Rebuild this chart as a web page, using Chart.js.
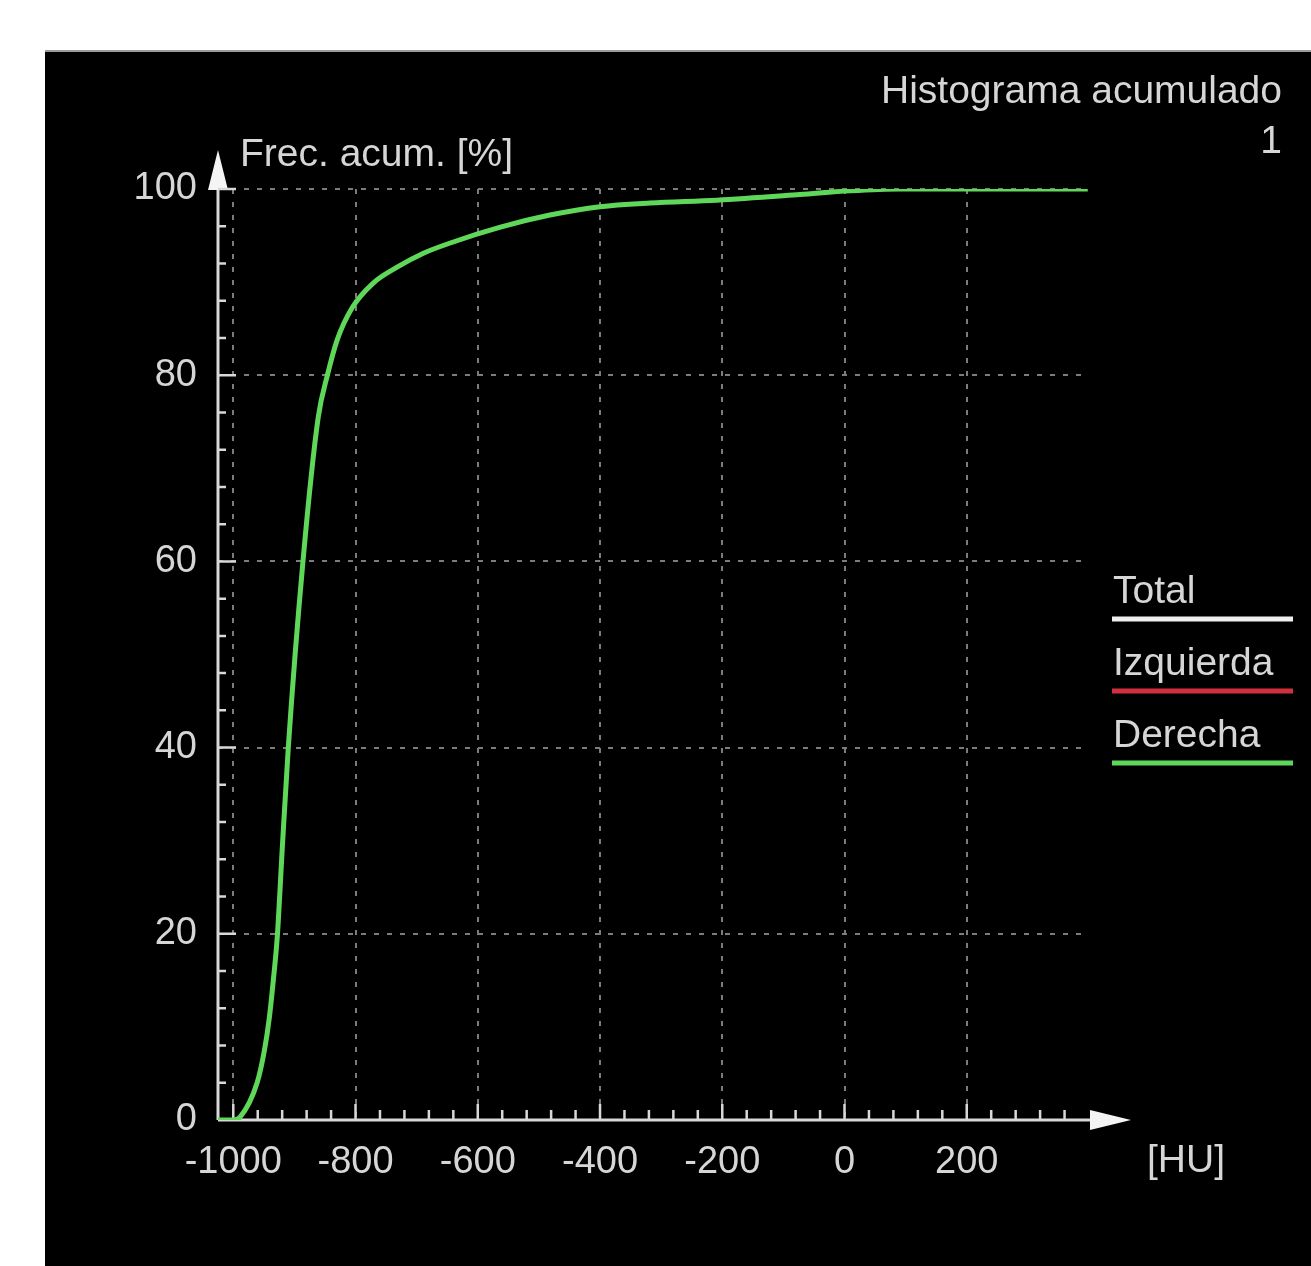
<!DOCTYPE html>
<html>
<head>
<meta charset="utf-8">
<script src="https://cdn.jsdelivr.net/npm/chart.js@4.4.1/dist/chart.umd.min.js"></script>
<style>
  html, body { margin: 0; padding: 0; background: #fff; }
  #wrap { width: 1311px; height: 1266px; }
</style>
</head>
<body>
<div id="wrap"><canvas id="myChart" width="1311" height="1266"></canvas></div>
<script>
// HU values and cumulative frequency
const huValues   = [-1025, -1000, -989, -961, -949, -941, -935, -928, -920, -910, -886, -861, -846, -830, -805, -771, -732, -689, -645, -563, -482, -400, -318, -209, -73, 9, 91, 200, 398];
const derechaPct = [0, 0, 0.3, 4, 7.5, 11, 14.7, 19.7, 29, 40, 60, 75.5, 80, 83.8, 87.3, 89.9, 91.6, 93.1, 94.2, 95.9, 97.2, 98.1, 98.5, 98.8, 99.4, 99.8, 100, 100, 100];

const xTicks = [-1000, -800, -600, -400, -200, 0, 200];
const yTicks = [0, 20, 40, 60, 80, 100];
const xMinorStep = 40;
const yMinorStep = 4;

const seriesNames  = ['Total', 'Izquierda', 'Derecha'];
const seriesColors = ['#efefef', '#d3303e', '#5fd85a'];

const FONT = "'Liberation Sans', Arial, sans-serif";
const TXT = '#d6d6d6';

const decorations = {
    id: 'decorations',
    beforeDraw(chart) {
        const ctx = chart.ctx;
        ctx.save();
        ctx.fillStyle = '#fff';
        ctx.fillRect(0, 0, chart.width, chart.height);
        ctx.fillStyle = '#000';
        ctx.fillRect(45, 50, chart.width - 45, chart.height - 50);
        ctx.strokeStyle = '#9a9a9a';
        ctx.lineWidth = 2;
        ctx.beginPath();
        ctx.moveTo(45, 51);
        ctx.lineTo(chart.width, 51);
        ctx.stroke();
        ctx.restore();
    },
    beforeDatasetsDraw(chart) {
        const ctx = chart.ctx;
        const xs = chart.scales.x, ys = chart.scales.y;
        const x0 = xs.left, y0 = ys.bottom;
        ctx.save();
        ctx.strokeStyle = '#d8d8d8';
        ctx.fillStyle = '#f4f4f4';
        ctx.lineWidth = 3;
        // axis lines
        ctx.beginPath();
        ctx.moveTo(x0, y0);
        ctx.lineTo(x0, ys.top - 8);
        ctx.moveTo(x0, y0);
        ctx.lineTo(xs.right + 5, y0);
        ctx.stroke();
        // arrows
        ctx.beginPath();
        ctx.moveTo(x0, ys.top - 39);
        ctx.lineTo(x0 - 10, ys.top + 1);
        ctx.lineTo(x0 + 10, ys.top + 1);
        ctx.closePath();
        ctx.fill();
        ctx.beginPath();
        ctx.moveTo(xs.right + 42, y0);
        ctx.lineTo(xs.right + 1, y0 - 10);
        ctx.lineTo(xs.right + 1, y0 + 10);
        ctx.closePath();
        ctx.fill();
        // tick marks
        ctx.lineWidth = 2.5;
        ctx.beginPath();
        for (let v = -1000; v < xs.max; v += xMinorStep) {
            const px = xs.getPixelForValue(v);
            const len = (v % 200 === 0) ? 16 : 10;
            ctx.moveTo(px, y0);
            ctx.lineTo(px, y0 - len);
        }
        for (let v = yMinorStep; v <= 100; v += yMinorStep) {
            const py = ys.getPixelForValue(v);
            const len = (v % 20 === 0) ? 18 : 8;
            ctx.moveTo(x0, py);
            ctx.lineTo(x0 + len, py);
        }
        ctx.stroke();
        ctx.restore();
    },
    afterDraw(chart) {
        const ctx = chart.ctx;
        const xs = chart.scales.x;
        ctx.save();
        ctx.fillStyle = TXT;
        ctx.font = '39px ' + FONT;
        ctx.textBaseline = 'alphabetic';
        ctx.textAlign = 'right';
        ctx.fillText('Histograma acumulado', 1282, 103);
        ctx.fillText('1', 1282, 153);
        ctx.textAlign = 'left';
        ctx.fillText('Frec. acum. [%]', xs.left + 22, 166);
        ctx.fillText('[HU]', 1147, 1172);
        // legend
        chart.data.datasets.forEach((ds, i) => {
            const top = 588 + i * 72;
            ctx.fillStyle = TXT;
            ctx.fillText(ds.label, 1113, top + 15);
            ctx.strokeStyle = ds.borderColor;
            ctx.lineWidth = 5;
            ctx.beginPath();
            ctx.moveTo(1112, top + 31);
            ctx.lineTo(1293, top + 31);
            ctx.stroke();
        });
        ctx.restore();
    }
};

const datasets = seriesNames.map((name, i) => ({
    label: name,
    data: name === 'Derecha' ? huValues.map((hu, k) => ({ x: hu, y: derechaPct[k] })) : [],
    borderColor: seriesColors[i],
    borderWidth: 5,
    pointRadius: 0,
    fill: false,
    cubicInterpolationMode: 'monotone'
}));

const tickFont = { family: FONT, size: 38 };

new Chart(document.getElementById('myChart').getContext('2d'), {
    type: 'line',
    data: { datasets: datasets },
    options: {
        responsive: false,
        animation: false,
        layout: { padding: { left: 118, right: 222, top: 189, bottom: 66 } },
        plugins: { legend: { display: false }, tooltip: { enabled: false } },
        scales: {
            x: {
                type: 'linear',
                min: -1025,
                max: 400,
                afterBuildTicks: s => { s.ticks = xTicks.map(v => ({ value: v })); },
                afterFit: s => { s.height = 80; },
                ticks: { color: TXT, font: tickFont, padding: 20, maxRotation: 0, autoSkip: false,
                         callback: v => String(v) },
                grid: { color: '#7c7c7c', lineWidth: 2, drawTicks: false },
                border: { display: false, dash: [5, 8] }
            },
            y: {
                min: 0,
                max: 100,
                afterBuildTicks: s => { s.ticks = yTicks.map(v => ({ value: v })); },
                afterFit: s => { s.width = 100; },
                ticks: { color: TXT, font: tickFont, padding: 21, callback: v => String(v) },
                grid: { color: '#7c7c7c', lineWidth: 2, drawTicks: false },
                border: { display: false, dash: [5, 8] }
            }
        }
    },
    plugins: [decorations]
});
</script>
</body>
</html>
